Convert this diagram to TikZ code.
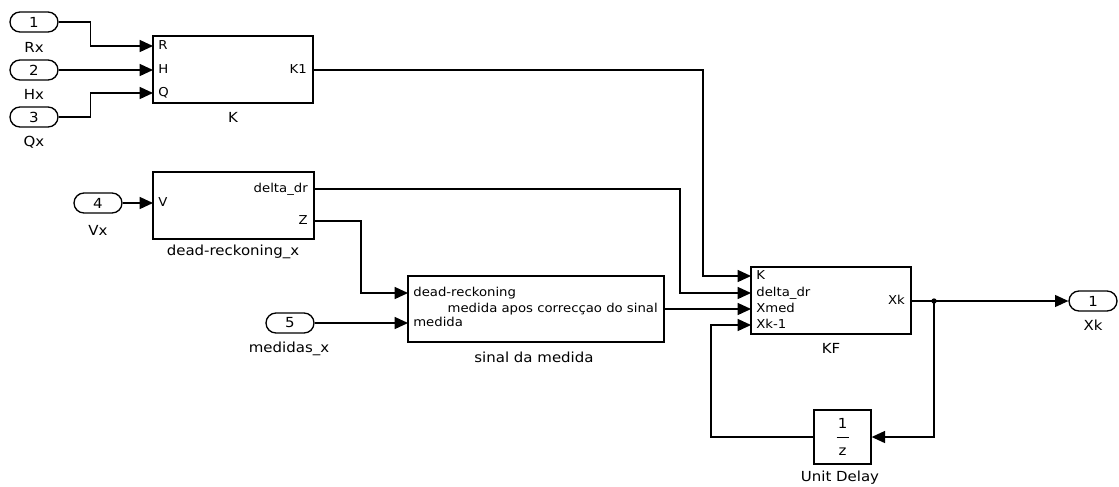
\documentclass[tikz,border=0pt]{standalone}
\usepackage{fontspec}
\setmainfont{DejaVu Sans}[FakeStretch=1.08]
\usetikzlibrary{arrows.meta}
\begin{document}
\begin{tikzpicture}[x=0.75pt,y=-0.75pt,
  every node/.style={font=\fontsize{9.2pt}{11pt}\selectfont, inner sep=0pt},
  namelbl/.style={font=\fontsize{10.4pt}{12pt}\selectfont},
  port/.style={draw, line width=1pt, rounded corners=7.5pt, minimum width=36pt, minimum height=15pt,
    font=\fontsize{10.4pt}{12pt}\selectfont},
  block/.style={draw, line width=1pt},
  sig/.style={line width=1pt},
  arr/.style={sig, -{Triangle[length=10pt, width=9pt]}},
  inlbl/.style={anchor=mid west, xshift=3.8pt},
  outlbl/.style={anchor=mid east, xshift=-4.5pt}]
\useasboundingbox (0,0) rectangle (1119,486);

% inports and outport
\node[port] (p1) at (34,22) {1};
\node[port] (p2) at (34,70) {2};
\node[port] (p3) at (34,117) {3};
\node[port] (p4) at (98,203) {4};
\node[port] (p5) at (290,323) {5};
\node[port] (po) at (1093,301) {1};
\node[namelbl] (l1) at (34,47) {Rx};
\node[namelbl] (l2) at (34,94) {Hx};
\node[namelbl] (l3) at (34,142) {Qx};
\node[namelbl] (l4) at (98,230) {Vx};
\node[namelbl] (l5) at (289,349) {medidas\_x};
\node[namelbl] (lo) at (1093,325) {Xk};

% subsystem K
\node[block, minimum width=120pt, minimum height=50.25pt] (K) at (233,69.5) {};
\node[namelbl] (Kname) at (233,117) {K};
\coordinate (kR) at (153,46);
\coordinate (kH) at (153,70);
\coordinate (kQ) at (153,93);
\coordinate (kK1) at (313,70);
\node[inlbl] at (kR) {R};
\node[inlbl] at (kH) {H};
\node[inlbl] at (kQ) {Q};
\node[outlbl] at (kK1) {K1};

% subsystem dead-reckoning_x
\node[block, minimum width=120.75pt, minimum height=50.25pt] (DR) at (233.5,205.5) {};
\node[namelbl] (DRname) at (233,252) {dead-reckoning\_x};
\coordinate (dV) at (153,203);
\coordinate (dDelta) at (314,189);
\coordinate (dZ) at (314,221);
\node[inlbl] at (dV) {V};
\node[outlbl] at (dDelta) {delta\_dr};
\node[outlbl] at (dZ) {Z};

% subsystem sinal da medida
\node[block, minimum width=192pt, minimum height=49.5pt] (S) at (536,309) {};
\node[namelbl] (Sname) at (534,357) {sinal da medida};
\coordinate (sDR) at (408,293);
\coordinate (sMed) at (408,323);
\coordinate (sOut) at (664,309);
\node[inlbl] at (sDR) {dead-reckoning};
\node[inlbl] at (sMed) {medida};
\node[outlbl] at (sOut) {medida apos correcçao do sinal};

% subsystem KF
\node[block, minimum width=120pt, minimum height=50.25pt] (KF) at (831,300.5) {};
\node[namelbl] (KFname) at (831,348) {KF};
\coordinate (fK) at (751,276);
\coordinate (fDelta) at (751,293);
\coordinate (fXmed) at (751,309);
\coordinate (fXk1) at (751,325);
\coordinate (fXk) at (911,301);
\node[inlbl] at (fK) {K};
\node[inlbl] at (fDelta) {delta\_dr};
\node[inlbl] at (fXmed) {Xmed};
\node[inlbl] at (fXk1) {Xk-1};
\node[outlbl] at (fXk) {Xk};

% unit delay 1/z
\node[block, minimum width=42.75pt, minimum height=40.5pt] (UD) at (842.5,437) {};
\node[namelbl] (UDname) at (840,478) {Unit Delay};
\node[namelbl] (UDnum) at (842.5,423) {1};
\node[namelbl] (UDden) at (842.5,452) {z};
\draw[line width=0.9pt] (836.5,437.5) -- (848.5,437.5);

% signal lines
\draw[arr] (p1.east) -- ++(32,0) |- (kR);
\draw[arr] (p2.east) -- (kH);
\draw[arr] (p3.east) -- ++(32,0) |- (kQ);
\draw[arr] (kK1) -| (703,276) -- (fK);
\draw[arr] (p4.east) -- (dV);
\draw[arr] (dDelta) -| (680,293) -- (fDelta);
\draw[arr] (dZ) -| (361,293) -- (sDR);
\draw[arr] (p5.east) -- (sMed);
\draw[arr] (sOut) -- (fXmed);
\coordinate (j) at (934,301);
\draw[arr] (fXk) -- (po.west);
\fill (j) circle (2pt);
\draw[arr] (j) |- (UD.east);
\draw[arr] (UD.west) -| (711,325) -- (fXk1);
\end{tikzpicture}
\end{document}
